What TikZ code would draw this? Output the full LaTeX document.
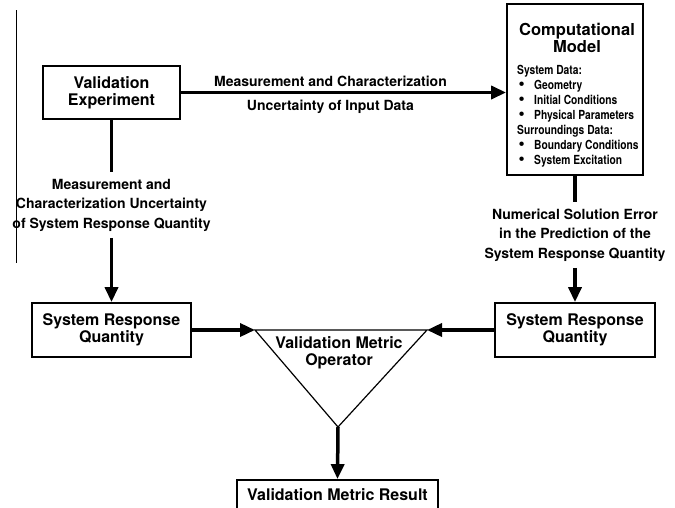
\documentclass[tikz,border=0pt]{standalone}
\usepackage{fontspec}
\usepackage{graphicx}
\setmainfont{TeX Gyre Heros}
\usetikzlibrary{arrows.meta,positioning}
\newcommand{\datahead}[1]{\scalebox{0.82}[1]{#1}}
\newcommand{\dataitem}[1]{\makebox[17pt][l]{\hspace{1.5pt}\scalebox{1.4}{\textbullet}}\scalebox{0.82}[1]{#1}}

\begin{document}
\begin{tikzpicture}[x=1pt,y=-1pt,
    box/.style={draw,line width=1.8pt,align=center,inner sep=0pt,font=\fontsize{16}{17}\selectfont\bfseries},
    lbl/.style={align=center,inner xsep=0pt,inner ysep=6.5pt,font=\fontsize{14}{19.5}\selectfont\bfseries},
    flow/.style={line width=3.5pt},
    arr/.style={line width=3.5pt,-{Triangle[length=15pt,width=13pt]}}]
    \useasboundingbox (0,0) rectangle (675,507);
    \draw[line width=0.8pt] (16,10) -- (16,263);

    \node[box,minimum width=137pt,minimum height=53pt] (ve) at (111.5,92.5) {Validation\\Experiment};
    \node[box,minimum width=136pt,minimum height=171pt] (comp) at (575,89.5) {};
    \node[align=center,inner sep=0pt,font=\fontsize{16.5}{15.5}\selectfont\bfseries] (comptitle) at (577,38) {Computational\\Model};
    \node[anchor=north west,align=left,inner sep=0pt,font=\fontsize{12.5}{15}\selectfont\bfseries] (compdata) at (517,65)
        {\datahead{System Data:}\\
         \dataitem{Geometry}\\
         \dataitem{Initial Conditions}\\
         \dataitem{Physical Parameters}\\
         \datahead{Surroundings Data:}\\
         \dataitem{Boundary Conditions}\\
         \dataitem{System Excitation}};

    \node[lbl] (errL) at (111.5,205) {Measurement and\\Characterization Uncertainty\\of System Response Quantity};
    \node[lbl] (errR) at (575,235) {Numerical Solution Error\\in the Prediction of the\\System Response Quantity};

    \node[box,minimum width=159pt,minimum height=54pt] (srqL) at (111.5,330) {System Response\\Quantity};
    \node[box,minimum width=160pt,minimum height=54pt] (srqR) at (575,330) {System Response\\Quantity};

    \coordinate (tl) at (255,330);
    \coordinate (tr) at (427,330);
    \coordinate (tb) at (338,427);
    \draw[line width=1.2pt] (tl) -- (tr) -- (tb) -- cycle;
    \node[box,draw=none] (vmo) at (339,353) {Validation Metric\\Operator};

    \node[box,minimum width=201pt,minimum height=36pt,text depth=6pt] (result) at (337.5,498) {Validation Metric Result};

    \draw[arr] (ve.east) -- (ve.east -| comp.west)
        node[pos=0.46,above=4pt,lbl,inner ysep=0pt] {Measurement and Characterization}
        node[pos=0.46,below=6pt,lbl,inner ysep=0pt] {Uncertainty of Input Data};
    \draw[flow] (ve.south) -- (errL.north);
    \draw[arr] (errL.south) -- (srqL.north);
    \draw[flow] (comp.south) -- (errR.north);
    \draw[arr] (errR.south) -- (srqR.north);
    \draw[arr] (srqL.east) -- (tl);
    \draw[arr] (srqR.west) -- (tr);
    \draw[arr] (tb) -- (result.north);
\end{tikzpicture}
\end{document}
